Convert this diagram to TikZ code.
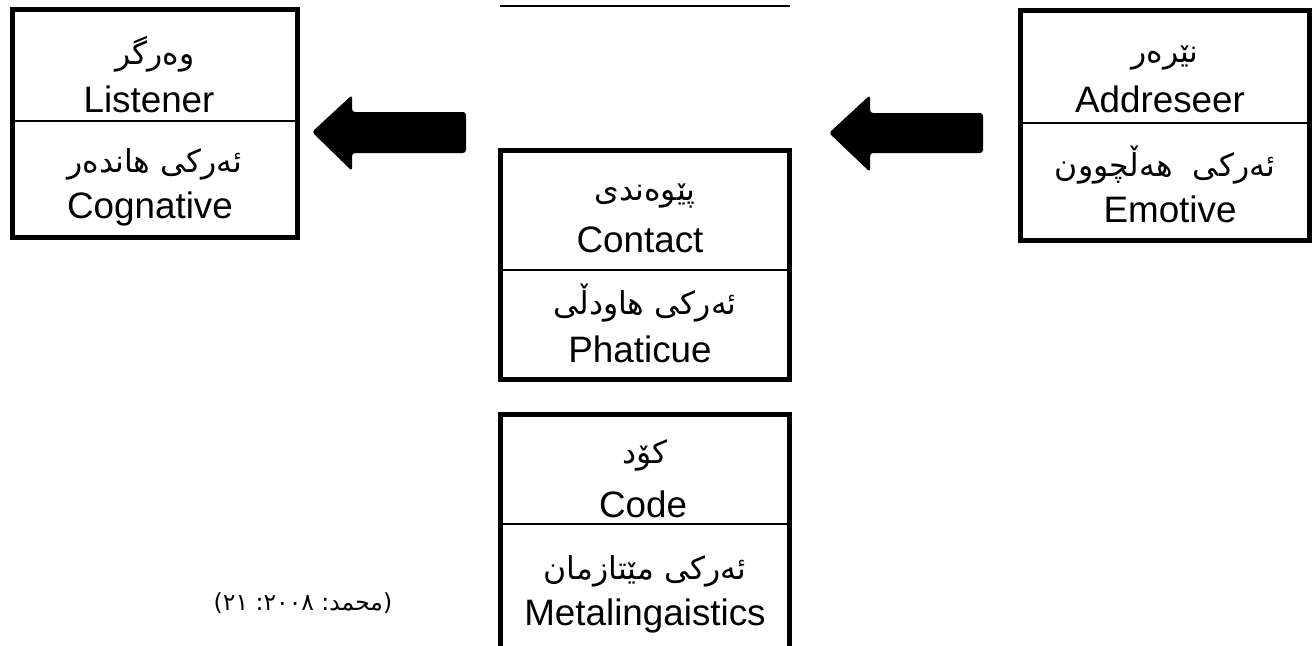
\documentclass[tikz,border=0pt]{standalone}
\usepackage{fontspec}
\setmainfont{Liberation Sans}
\newfontfamily\kfont[Script=Arabic]{DejaVu Sans}
\TeXXeTstate=1
\newcommand{\rtl}[1]{\kfont\beginR #1\endR}
\begin{document}
\begin{tikzpicture}[x=1pt,y=-1pt,
  box/.style={draw, line width=5pt, rectangle, inner sep=0pt},
  lat/.style={font=\fontsize{36.8}{40}\selectfont, anchor=base, inner sep=0pt},
  kur/.style={font=\fontsize{31.5}{34}\selectfont, inner sep=0pt},
  cite/.style={font=\fontsize{23.5}{26}\selectfont, inner sep=0pt},
  divider/.style={line width=2pt},
  topline/.style={line width=1.5pt},
  blockarrow/.style={fill=black, rounded corners=3pt}]
\fill[white] (0,0) rectangle (1313,645);
\useasboundingbox (0,0) rectangle (1313,645);

% top line
\coordinate (t1) at (500,6);
\coordinate (t2) at (790,6);
\draw[topline] (t1) -- (t2);

% left box: Listener
\node[box, minimum width=285pt, minimum height=228pt] (lbox) at (155,123.5) {};
\coordinate (ldiv) at (0,121);
\draw[divider] (lbox.west |- ldiv) -- (lbox.east |- ldiv);
\node[kur] (l1) at (155,54) {\rtl{وەرگر}};
\node[lat] (l2) at (149,112) {Listener};
\node[kur] (l3) at (155,164) {\rtl{ئەرکی هاندەر}};
\node[lat] (l4) at (150,218) {Cognative};

% right box: Addreseer
\node[box, minimum width=289pt, minimum height=230pt] (rbox) at (1165,125.5) {};
\coordinate (rdiv) at (0,123);
\draw[divider] (rbox.west |- rdiv) -- (rbox.east |- rdiv);
\node[kur] (r1) at (1165,58) {\rtl{نێرەر}};
\node[lat] (r2) at (1160,112) {Addreseer};
\node[kur] (r3) at (1165,165) {\rtl{ئەرکی\ \ هەڵچوون}};
\node[lat] (r4) at (1170,222) {Emotive};

% middle box: Contact
\node[box, minimum width=289pt, minimum height=229pt] (cbox) at (645,265) {};
\coordinate (cdiv) at (0,270);
\draw[divider] (cbox.west |- cdiv) -- (cbox.east |- cdiv);
\node[kur] (c1) at (645,196) {\rtl{پێوەندی}};
\node[lat] (c2) at (640,252) {Contact};
\node[kur] (c3) at (645,303) {\rtl{ئەرکی هاودڵی}};
\node[lat] (c4) at (640,362) {Phaticue};

% bottom box: Code
\node[box, minimum width=289pt, minimum height=246pt] (kbox) at (645,537) {};
\coordinate (kdiv) at (0,524);
\draw[divider] (kbox.west |- kdiv) -- (kbox.east |- kdiv);
\node[kur] (k1) at (645,455) {\rtl{کۆد}};
\node[lat] (k2) at (643,517) {Code};
\node[kur] (k3) at (645,571) {\rtl{ئەرکی مێتازمان}};
\node[lat] (k4) at (645,625) {Metalingaistics};

% citation
\node[cite] (cit) at (303,603) {\kfont\beginR\hbox{(}\hbox{محمد}\hbox{:} \hbox{٢٠٠٨}\hbox{:} \hbox{٢١}\hbox{)}\endR};

% block arrows
\fill[blockarrow] (312,132) -- (352,95) -- (352,112) -- (466,112) -- (466,153) -- (352,153) -- (352,171) -- cycle;
\fill[blockarrow] (829,133) -- (870,95) -- (870,113) -- (983,113) -- (983,153) -- (870,153) -- (870,172) -- cycle;
\end{tikzpicture}
\end{document}
